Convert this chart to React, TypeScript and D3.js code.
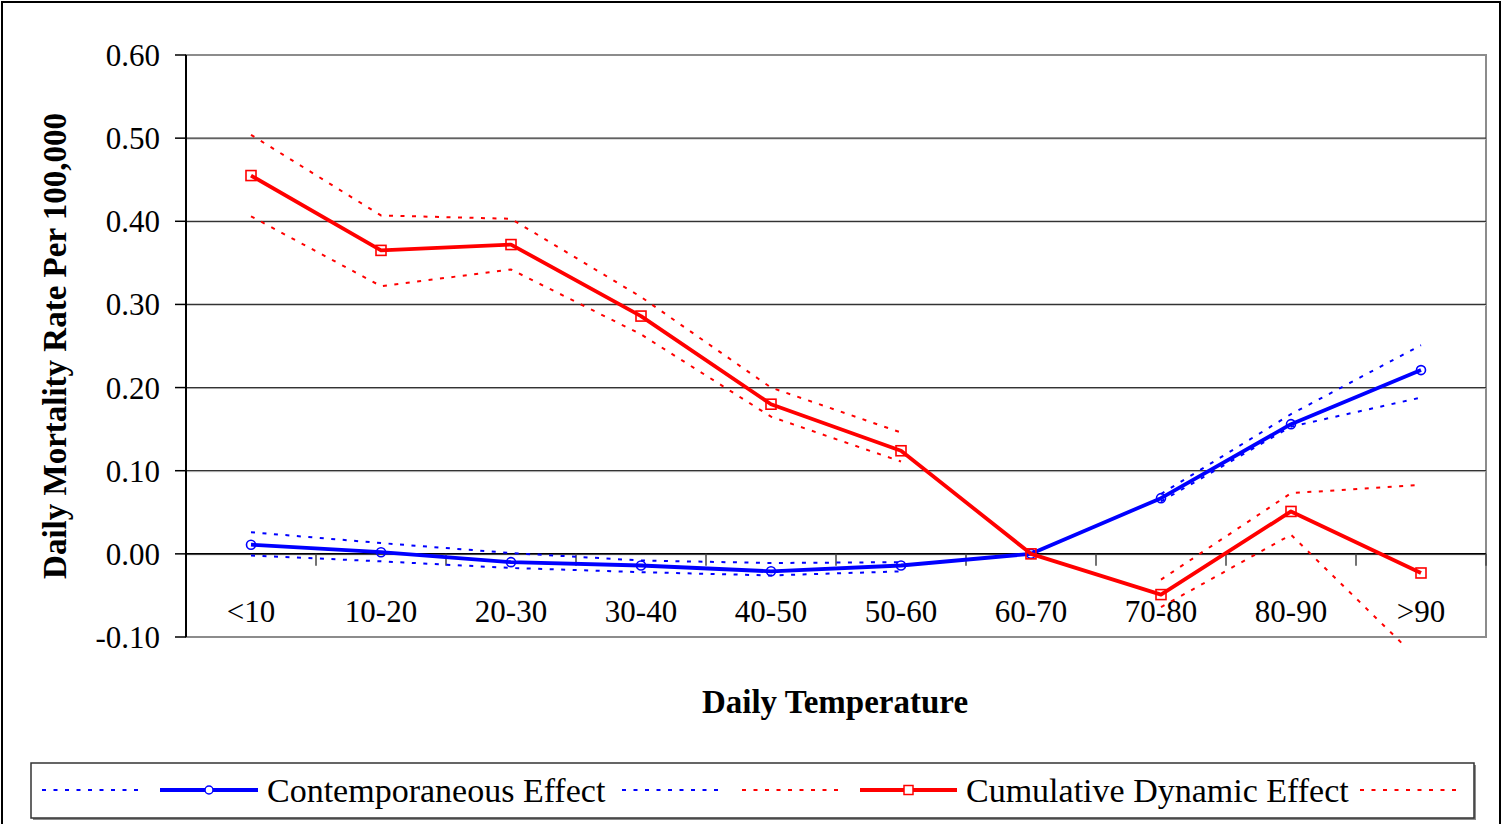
import React from "react";
import * as d3 from "d3";

const categories = ["<10", "10-20", "20-30", "30-40", "40-50", "50-60", "60-70", "70-80", "80-90", ">90"];

const contempEffect = [0.011, 0.002, -0.010, -0.014, -0.021, -0.014, 0.0, 0.067, 0.156, 0.221];
const contempUpper: (number | null)[] = [0.026, 0.013, 0.001, -0.008, -0.011, -0.010, null, 0.072, 0.168, 0.251];
const contempLower: (number | null)[] = [-0.002, -0.009, -0.017, -0.022, -0.026, -0.021, null, 0.063, 0.153, 0.188];

const cumEffect = [0.455, 0.365, 0.372, 0.286, 0.180, 0.124, 0.0, -0.049, 0.051, -0.023];
const cumUpper: (number | null)[] = [0.504, 0.407, 0.403, 0.309, 0.200, 0.146, null, -0.031, 0.073, 0.083];
const cumLower: (number | null)[] = [0.406, 0.322, 0.342, 0.264, 0.165, 0.111, null, -0.064, 0.023, -0.130];

const yTicks = [0.6, 0.5, 0.4, 0.3, 0.2, 0.1, 0.0, -0.1];

const xTitle = "Daily Temperature";
const yTitle = "Daily Mortality Rate Per 100,000";
const seriesNames = ["Contemporaneous Effect", "Cumulative Dynamic Effect"];

const BLUE = "#0000FF";
const RED = "#FF0000";
const FONT = "'Liberation Serif', 'Times New Roman', serif";
const DASH = "4 7.5";

export default function App() {
  const W = 1504;
  const H = 824;
  const plot = { left: 186, right: 1486, top: 55, bottom: 637 };

  const x = d3.scaleBand<string>().domain(categories).range([plot.left, plot.right]);
  const y = d3.scaleLinear().domain([-0.1, 0.6]).range([plot.bottom, plot.top]);
  const cx = (c: string) => (x(c) as number) + x.bandwidth() / 2;

  const line = d3
    .line<number | null>()
    .defined((d) => d !== null)
    .x((_, i) => cx(categories[i]))
    .y((d) => y(d as number));

  const fmt = (v: number) => d3.format(".2f")(v).replace("\u2212", "-");
  const boundaries = categories.map((c) => (x(c) as number) + x.bandwidth());

  // legend layout
  const legY = 790;
  const legendItems = [
    { kind: "dot", color: BLUE, x0: 42, x1: 139 },
    { kind: "solid", color: BLUE, x0: 160, x1: 258, marker: "circle", label: seriesNames[0], tx: 267 },
    { kind: "dot", color: BLUE, x0: 622, x1: 720 },
    { kind: "dot", color: RED, x0: 742, x1: 838 },
    { kind: "solid", color: RED, x0: 860, x1: 957, marker: "square", label: seriesNames[1], tx: 966 },
    { kind: "dot", color: RED, x0: 1360, x1: 1458 },
  ];

  return (
    <svg
      width={W}
      height={H}
      style={{ position: "absolute", left: 0, top: 0, display: "block", background: "#fff" }}
      fontFamily={FONT}
    >
      <defs>
        <clipPath id="plotClip">
          <rect x={plot.left} y={plot.top - 20} width={plot.right - plot.left + 10} height={plot.bottom - plot.top + 29} />
        </clipPath>
      </defs>
      <rect x={0} y={0} width={W} height={H} fill="#fff" />
      {/* outer chart border */}
      <rect x={2} y={2} width={1498} height={840} fill="none" stroke="#000" strokeWidth={2} />

      {/* plot area border (grey) */}
      <rect
        x={plot.left}
        y={plot.top}
        width={plot.right - plot.left}
        height={plot.bottom - plot.top}
        fill="none"
        stroke="#8c8c8c"
        strokeWidth={2}
      />

      {/* gridlines */}
      {yTicks
        .filter((t) => t !== 0.6 && t !== -0.1)
        .map((t) => (
          <g key={"g" + t}>
            <line x1={plot.left} x2={plot.right} y1={y(t) + 1} y2={y(t) + 1} stroke="#c8c8c8" strokeWidth={1} />
            <line x1={plot.left} x2={plot.right} y1={y(t)} y2={y(t)} stroke="#333" strokeWidth={1.3} />
          </g>
        ))}

      {/* y axis */}
      <line x1={plot.left} x2={plot.left} y1={plot.top} y2={plot.bottom} stroke="#000" strokeWidth={2} />
      {yTicks.map((t) => (
        <g key={"yt" + t}>
          <line x1={plot.left - 11} x2={plot.left} y1={y(t)} y2={y(t)} stroke="#000" strokeWidth={1.5} />
          <text x={160} y={y(t) + 11} textAnchor="end" fontSize={31} fill="#000">
            {fmt(t)}
          </text>
        </g>
      ))}

      {/* x axis at zero */}
      <line x1={plot.left} x2={plot.right} y1={y(0)} y2={y(0)} stroke="#000" strokeWidth={1.5} />
      {boundaries.map((b, i) => (
        <line key={"xt" + i} x1={b} x2={b} y1={y(0)} y2={y(0) + 12} stroke="#444" strokeWidth={1.5} />
      ))}
      {categories.map((c) => (
        <text key={"xl" + c} x={cx(c)} y={622} textAnchor="middle" fontSize={31} fill="#000">
          {c}
        </text>
      ))}

      {/* series */}
      <g clipPath="url(#plotClip)">
        <path d={line(contempUpper) || ""} fill="none" stroke={BLUE} strokeWidth={2} strokeDasharray={DASH} />
        <path d={line(contempLower) || ""} fill="none" stroke={BLUE} strokeWidth={2} strokeDasharray={DASH} />
        <path d={line(contempEffect) || ""} fill="none" stroke={BLUE} strokeWidth={3.8} strokeLinejoin="round" />
        {contempEffect.map((v, i) => (
          <circle key={"bc" + i} cx={cx(categories[i])} cy={y(v)} r={4.5} fill="none" stroke={BLUE} strokeWidth={1.6} />
        ))}

        <path d={line(cumUpper) || ""} fill="none" stroke={RED} strokeWidth={2} strokeDasharray={DASH} />
        <path d={line(cumLower) || ""} fill="none" stroke={RED} strokeWidth={2} strokeDasharray={DASH} />
        <path d={line(cumEffect) || ""} fill="none" stroke={RED} strokeWidth={3.8} strokeLinejoin="round" />
        {cumEffect.map((v, i) => (
          <rect
            key={"rs" + i}
            x={cx(categories[i]) - 5}
            y={y(v) - 5}
            width={10}
            height={10}
            fill="none"
            stroke={RED}
            strokeWidth={1.6}
          />
        ))}
      </g>

      {/* axis titles */}
      <text x={835} y={713} textAnchor="middle" fontSize={33} fontWeight="bold" fill="#000">
        {xTitle}
      </text>
      <text
        transform={`translate(66, ${(plot.top + plot.bottom) / 2}) rotate(-90)`}
        textAnchor="middle"
        fontSize={33}
        fontWeight="bold"
        fill="#000"
      >
        {yTitle}
      </text>

      {/* legend */}
      <rect x={33} y={765} width={1443} height={55} fill="#8c8c8c" />
      <rect x={31} y={763} width={1443} height={55} fill="#fff" stroke="#333" strokeWidth={1.5} />
      {legendItems.map((it, i) => (
        <g key={"lg" + i}>
          {it.kind === "dot" ? (
            <line x1={it.x0} x2={it.x1} y1={legY} y2={legY} stroke={it.color} strokeWidth={2} strokeDasharray={DASH} />
          ) : (
            <line x1={it.x0} x2={it.x1} y1={legY} y2={legY} stroke={it.color} strokeWidth={4} />
          )}
          {it.marker === "circle" && (
            <circle cx={(it.x0 + it.x1) / 2} cy={legY} r={4} fill="#fff" stroke={it.color} strokeWidth={1.5} />
          )}
          {it.marker === "square" && (
            <rect x={(it.x0 + it.x1) / 2 - 4.5} y={legY - 4.5} width={9} height={9} fill="#fff" stroke={it.color} strokeWidth={1.5} />
          )}
          {it.label && (
            <text x={it.tx} y={legY + 12} fontSize={34} fill="#000">
              {it.label}
            </text>
          )}
        </g>
      ))}
    </svg>
  );
}
